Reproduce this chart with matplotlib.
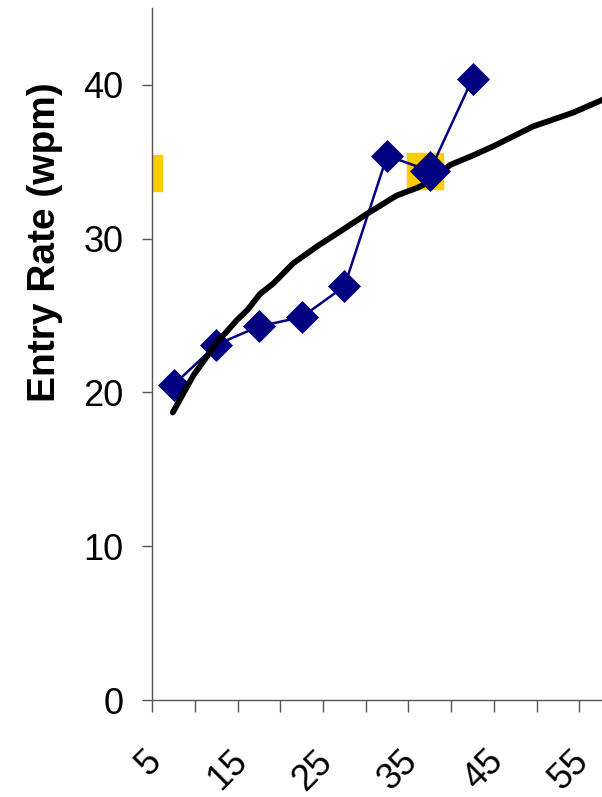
import matplotlib
matplotlib.use("Agg")
import matplotlib.pyplot as plt
from matplotlib.transforms import ScaledTranslation

plt.rcParams['font.family'] = ['Liberation Sans', 'DejaVu Sans']

# Observed entry rates (blue diamonds)
obs_x = [7.5, 12.5, 17.5, 22.5, 27.5, 32.5, 37.5, 42.5]
obs_y = [20.5, 23.1, 24.3, 24.9, 26.9, 35.4, 34.4, 40.4]

# Highlighted point (larger diamond)
big_x = [37.5]
big_y = [34.4]

# Yellow squares
yel_x = [4.05, 36.9]
yel_y = [34.3, 34.4]

# Fitted curve (black line)
fit_x = [7.4, 9.8, 12.5, 14.9, 16.2, 17.6, 19.2, 21.5, 24.3, 26.8, 30.1,
         33.6, 36.0, 37.5, 39.9, 42.5, 44.9, 49.6, 54.3, 58.0]
fit_y = [18.7, 21.1, 23.2, 24.7, 25.4, 26.4, 27.1, 28.4, 29.5, 30.4, 31.6,
         32.8, 33.3, 33.7, 34.8, 35.4, 36.0, 37.3, 38.2, 39.1]

x_ticks = [5, 10, 15, 20, 25, 30, 35, 40, 45, 50, 55]
x_ticklabels = ['5', '', '15', '', '25', '', '35', '', '45', '', '55']
y_ticks = [0, 10, 20, 30, 40]

fig = plt.figure(figsize=(6.02, 7.97), dpi=100)
ax = fig.add_axes([152.3 / 602, 97 / 797, 1 - 152.3 / 602, 692 / 797])

ax.plot(yel_x, yel_y, linestyle='none', marker='s', ms=26,
        color='#FFCC00', mec='#FFCC00', zorder=1)
ax.plot(obs_x, obs_y, color='#000080', lw=1.8, marker='D', ms=16.5,
        mfc='#000080', mec='#000080', mew=0.5, zorder=2)
ax.plot(fit_x, fit_y, color='black', lw=4.2, solid_capstyle='round', zorder=3)
ax.plot(big_x, big_y, linestyle='none', marker='D', ms=20.5,
        mfc='#000080', mec='#000080', mew=0.5, zorder=4)

ax.set_xlim(5, 57.66)
ax.set_ylim(0, 45)

for s in ['top', 'right']:
    ax.spines[s].set_visible(False)
for s in ['left', 'bottom']:
    ax.spines[s].set_color('#555555')
    ax.spines[s].set_linewidth(1.0)

ax.set_yticks(y_ticks)
ax.set_yticklabels([str(v) for v in y_ticks])
ax.set_xticks(x_ticks)
ax.set_xticklabels(x_ticklabels)

ax.tick_params(axis='y', direction='out', length=7.2, width=1.0,
               color='#555555', pad=13.5, labelsize=26)
ax.tick_params(axis='x', direction='out', length=8.5, width=1.0,
               color='#555555', pad=32, labelsize=26)

offset = ScaledTranslation(4 / 100, 0, fig.dpi_scale_trans)
for lab in ax.get_xticklabels():
    lab.set_rotation(45)
    lab.set_ha('right')
    lab.set_va('center')
    lab.set_rotation_mode('anchor')
    lab.set_transform(lab.get_transform() + offset)

fig.text(45 / 602, 1 - 242 / 797, 'Entry Rate (wpm)', rotation=90,
         ha='center', va='center', fontsize=28, fontweight='bold')

fig.savefig('out.png', dpi=100)
